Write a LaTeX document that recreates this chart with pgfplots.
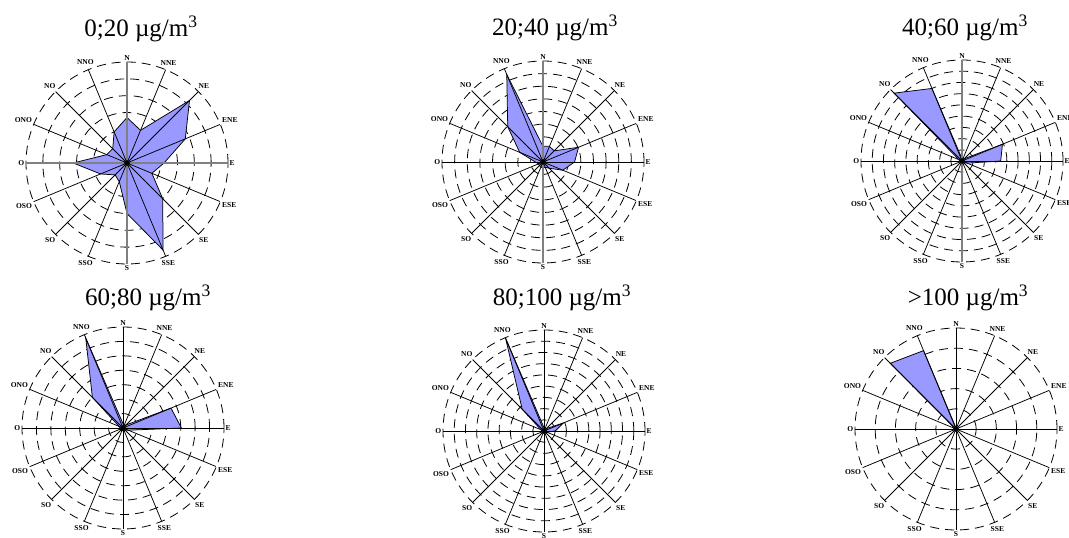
\documentclass[border=0pt]{standalone}
\usepackage{fontspec}
\setmainfont{Liberation Serif}
\usepackage{pgfplots}
\usepgfplotslibrary{polar}
\usepackage{pgfplotstable}
\pgfplotsset{compat=1.18}
\definecolor{rosefill}{HTML}{9999FF}

% columns: direction, polar angle (90 = N, clockwise compass), value in ring units
\pgfplotstableread{
dir ang r
N 90 2.7
NNE 67.5 2.1
NE 45 5.25
ENE 22.5 3.75
E 0 2.2
ESE 337.5 1.6
SE 315 3.0
SSE 292.5 5.6
S 270 3.0
SSO 247.5 1.2
SO 225 1.0
OSO 202.5 1.7
O 180 3.2
ONO 157.5 1.3
NO 135 1.2
NNO 112.5 2.0
N 90 2.7
}\dataA

\pgfplotstableread{
dir ang r
N 90 1.24
NNE 67.5 1.34
NE 45 1.25
ENE 22.5 3.05
E 0 2.5
ESE 337.5 1.7
SE 315 0.7
SSE 292.5 0.45
S 270 0.45
SSO 247.5 0.45
SO 225 0.4
OSO 202.5 0.4
O 180 0.6
ONO 157.5 2.0
NO 135 3.95
NNO 112.5 7.5
N 90 1.24
}\dataB

\pgfplotstableread{
dir ang r
N 90 0.2
NNE 67.5 0.2
NE 45 0.3
ENE 22.5 3.9
E 0 3.45
ESE 337.5 0.5
SE 315 0.2
SSE 292.5 0.2
S 270 0.2
SSO 247.5 0.2
SO 225 0.2
OSO 202.5 0.2
O 180 0.2
ONO 157.5 0.3
NO 135 8.55
NNO 112.5 7.0
N 90 0.2
}\dataC

\pgfplotstableread{
dir ang r
N 90 0.3
NNE 67.5 0.2
NE 45 0.3
ENE 22.5 3.6
E 0 4.05
ESE 337.5 0.4
SE 315 0.2
SSE 292.5 0.2
S 270 0.2
SSO 247.5 0.2
SO 225 0.2
OSO 202.5 0.2
O 180 0.2
ONO 157.5 0.3
NO 135 3.0
NNO 112.5 6.75
N 90 0.3
}\dataD

\pgfplotstableread{
dir ang r
N 90 0.3
NNE 67.5 0.2
NE 45 0.3
ENE 22.5 1.85
E 0 1.0
ESE 337.5 0.3
SE 315 0.2
SSE 292.5 0.2
S 270 0.2
SSO 247.5 0.2
SO 225 0.2
OSO 202.5 0.2
O 180 0.2
ONO 157.5 0.3
NO 135 2.75
NNO 112.5 8.95
N 90 0.3
}\dataE

\pgfplotstableread{
dir ang r
N 90 0.05
NNE 67.5 0.05
NE 45 0.05
ENE 22.5 0.05
E 0 0.05
ESE 337.5 0.05
SE 315 0.05
SSE 292.5 0.05
S 270 0.05
SSO 247.5 0.05
SO 225 0.05
OSO 202.5 0.05
O 180 0.05
ONO 157.5 0.05
NO 135 4.6
NNO 112.5 4.2
N 90 0.05
}\dataF

\pgfplotsset{
 roseaxis/.style={
  scale only axis, width=202pt, height=202pt, anchor=center,
  xmin=0, xmax=360, ymin=0,
  xtick={0,22.5,...,337.5},
  xticklabels={E,ENE,NE,NNE,N,NNO,NO,ONO,O,OSO,SO,SSO,S,SSE,SE,ESE},
  xticklabel style={font=\bfseries\fontsize{7.5}{8}\selectfont, inner sep=1.5pt},
  yticklabels={},
  xmajorgrids=false, ymajorgrids=true,
  major y grid style={black, line width=0.8pt, dash pattern=on 9pt off 6pt},
  axis line style={black, line width=0.8pt, dash pattern=on 9pt off 6pt},
  tick style={draw=none},
 },
}

\newcommand{\spokes}[3]{% #1 = R, #2 = N-S colour, #3 = E-W colour
 \pgfplotsinvokeforeach{22.5,45,67.5,112.5,135,157.5,202.5,225,247.5,292.5,315,337.5}{%
  \addplot[black, line width=0.75pt] coordinates {(##1,0) (##1,#1)};}
 \addplot[#2] coordinates {(90,#1) (270,#1)};
 \addplot[#3] coordinates {(0,#1) (180,#1)};
 \addplot[only marks, mark=*, mark size=2.6pt, black] coordinates {(0,0)};
}

\begin{document}
\begin{tikzpicture}
\path[use as bounding box] (0pt,0pt) rectangle (1069pt,538pt);

\begin{polaraxis}[roseaxis, at={(127pt,375pt)}, ymax=6, ytick={1,2,3,4,5}]
 \addplot[fill=rosefill, draw=black, line width=0.75pt] table[x=ang, y=r] {\dataA};
 \spokes{6}{gray, line width=1.2pt}{gray, line width=1.2pt}
\end{polaraxis}

\begin{polaraxis}[roseaxis, at={(543pt,376pt)}, ymax=8, ytick={1,...,7}]
 \addplot[fill=rosefill, draw=black, line width=0.75pt] table[x=ang, y=r] {\dataB};
 \spokes{8}{gray, line width=1.2pt}{black, line width=0.75pt}
\end{polaraxis}

\begin{polaraxis}[roseaxis, at={(962pt,377pt)}, ymax=9, ytick={1,...,8}]
 \addplot[fill=rosefill, draw=black, line width=0.75pt] table[x=ang, y=r] {\dataC};
 \spokes{9}{gray, line width=1.2pt}{black, line width=0.75pt}
\end{polaraxis}

\begin{polaraxis}[roseaxis, at={(123pt,110pt)}, ymax=7, ytick={1,...,6}]
 \addplot[fill=rosefill, draw=black, line width=0.75pt] table[x=ang, y=r] {\dataD};
 \spokes{7}{black, line width=0.75pt}{black, line width=0.75pt}
\end{polaraxis}

\begin{polaraxis}[roseaxis, at={(544pt,107pt)}, ymax=9, ytick={1,...,8}]
 \addplot[fill=rosefill, draw=black, line width=0.75pt] table[x=ang, y=r] {\dataE};
 \spokes{9}{black, line width=0.75pt}{black, line width=0.75pt}
\end{polaraxis}

\begin{polaraxis}[roseaxis, at={(956pt,109pt)}, ymax=5, ytick={1,...,4}]
 \addplot[fill=rosefill, draw=black, line width=0.75pt] table[x=ang, y=r] {\dataF};
 \spokes{5}{black, line width=0.75pt}{black, line width=0.75pt}
\end{polaraxis}

\begin{scope}[every node/.style={anchor=base, font=\fontsize{25}{28}\selectfont, inner sep=0pt}]
\node at (141pt,501pt) {0;20 µg/m\textsuperscript{3}};
\node at (555pt,502pt) {20;40 µg/m\textsuperscript{3}};
\node at (965pt,502pt) {40;60 µg/m\textsuperscript{3}};
\node at (148pt,232pt) {60;80 µg/m\textsuperscript{3}};
\node at (562pt,232pt) {80;100 µg/m\textsuperscript{3}};
\node at (968pt,232pt) {>100 µg/m\textsuperscript{3}};
\end{scope}
\end{tikzpicture}
\end{document}
